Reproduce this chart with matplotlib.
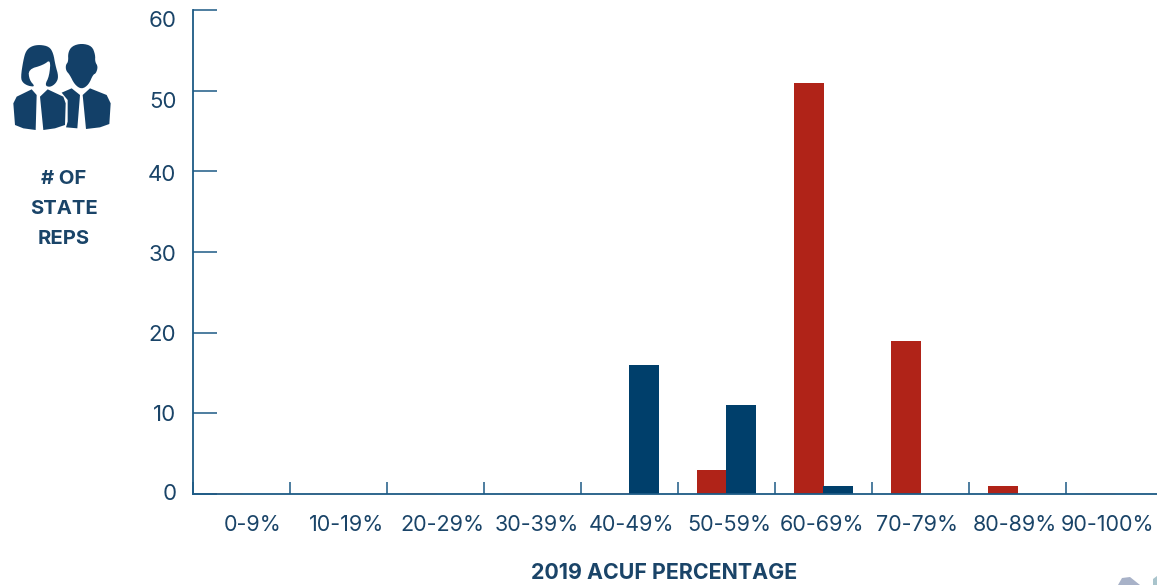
import numpy as np
import matplotlib
matplotlib.use('Agg')
import matplotlib.pyplot as plt
from matplotlib.patches import Polygon
from matplotlib.transforms import ScaledTranslation

plt.rcParams['font.family'] = ['Inter', 'DejaVu Sans']

# chart values
categories = ['0-9%', '10-19%', '20-29%', '30-39%', '40-49%', '50-59%', '60-69%', '70-79%', '80-89%', '90-100%']
red_counts = np.array([0, 0, 0, 0, 0, 3, 51, 19, 1, 0])
blue_counts = np.array([0, 0, 0, 0, 16, 11, 1, 0, 0, 0])
y_ticks = [0, 10, 20, 30, 40, 50, 60]
y_title = ['# OF', 'STATE', 'REPS']
x_title = '2019 ACUF PERCENTAGE'

RED = '#b02318'
BLUE = '#003f6b'
AXIS = '#1c5a85'
TEXT = '#1a4468'
ICON = '#134068'

W, H = 1157, 585
fig = plt.figure(figsize=(W / 100, H / 100), dpi=100)

# axes in pixels: x axis runs off the right edge of the picture, 97px per category
left, bottom, top = 192.5, 494, 10
ax = fig.add_axes([left / W, (H - bottom) / H, (W - left) / W, (bottom - top) / H])
ax.set_xlim(0, (W - left) / 97)
ax.set_ylim(0, 60)

x = np.arange(len(categories)) + 0.5
bw = 30 / 97
shift = 0.6 / 97  # red bars sit a touch right of the category centre
ax.bar(x[red_counts > 0] - bw / 2 + shift, red_counts[red_counts > 0], bw, color=RED)
ax.bar(x[blue_counts > 0] + bw / 2, blue_counts[blue_counts > 0], bw, color=BLUE)
# zero bars only leave a faint tint on the axis line
ax.bar(x[red_counts == 0] - bw / 2 + shift, red_counts[red_counts == 0], bw, color=RED, edgecolor=RED,
       linewidth=1.0, alpha=0.3, zorder=4)

for s in ['top', 'right']:
    ax.spines[s].set_visible(False)
for s in ['left', 'bottom']:
    ax.spines[s].set_color(AXIS)
    ax.spines[s].set_linewidth(1.3)

px = 0.72  # points per pixel at dpi 100
ax.set_yticks(y_ticks)
ax.tick_params(axis='y', direction='in', length=24 * px, width=1.1, color=AXIS, labelcolor=TEXT,
               labelsize=16, pad=16 * px)
ax.set_xticks(np.arange(0, 10))
ax.set_xticklabels([])
ax.tick_params(axis='x', which='major', direction='in', length=12 * px, width=1.1, color=AXIS)
ax.set_xticks(x, minor=True)
ax.set_xticklabels(categories, minor=True)
ax.tick_params(axis='x', which='minor', length=0, labelcolor=TEXT, labelsize=15.5, pad=21 * px)

# the labels in the original are nudged by hand, so shift each one (pixels)
y_nudge = [2, 0, 0, -1, -1.5, -9, -9]
x_nudge = [12, 9, 7, 5, 3, 3, -1, -3, -2, -6]
for lab, d in zip(ax.get_yticklabels(), y_nudge):
    lab.set_transform(lab.get_transform() + ScaledTranslation(0, d / 100, fig.dpi_scale_trans))
for lab, d in zip(ax.get_xticklabels(minor=True), x_nudge):
    lab.set_transform(lab.get_transform() + ScaledTranslation(d / 100, 0, fig.dpi_scale_trans))

# overlay in pixel coordinates for titles and icon
ov = fig.add_axes([0, 0, 1, 1], zorder=5)
ov.set_xlim(0, W)
ov.set_ylim(H, 0)
ov.axis('off')

for txt, yy in zip(y_title, [179, 209, 239]):
    ov.text(64, yy, txt, ha='center', va='center', color=TEXT, fontsize=14.6, fontweight='bold')
ov.text(664.5, 573, x_title, ha='center', va='center', color=TEXT, fontsize=15.4, fontweight='bold')


def smooth(pts, n=2):
    # corner cutting so the heads come out round
    pts = np.array(pts, dtype=float)
    for _ in range(n):
        nxt = np.roll(pts, -1, axis=0)
        pts = np.column_stack([0.75 * pts + 0.25 * nxt, 0.25 * pts + 0.75 * nxt]).reshape(-1, 2)
    return pts


# people icon, traced from a 3x zoom
heads = [
    [(62, 232), (70, 180), (78, 152), (95, 138), (120, 134), (148, 140), (160, 160), (166, 195), (176, 230),
     (168, 250), (150, 262), (134, 256), (148, 228), (152, 178), (130, 195), (85, 208), (88, 240), (106, 260),
     (85, 258), (68, 248)],
    [(245, 130), (276, 138), (286, 165), (285, 185), (294, 200), (288, 220), (279, 224), (266, 254), (245, 268),
     (224, 254), (209, 224), (198, 212), (197, 195), (205, 185), (204, 158), (216, 138)],
]
jackets = [
    [(95, 268), (110, 285), (107, 390), (70, 385), (45, 375), (40, 310), (50, 290)],
    [(143, 268), (190, 290), (197, 310), (195, 375), (165, 385), (130, 390), (120, 290)],
    [(215, 265), (240, 285), (232, 385), (198, 382), (203, 365), (203, 300), (185, 278)],
    [(270, 265), (320, 285), (332, 310), (328, 372), (300, 382), (258, 387), (248, 285)],
]
for shape in heads:
    ov.add_patch(Polygon(smooth(shape) / 3, closed=True, color=ICON, lw=0))
for shape in jackets:
    ov.add_patch(Polygon(np.array(shape) / 3, closed=True, color=ICON, lw=0))

# bits of the next graphic showing at the bottom edge
ov.add_patch(Polygon([(1118, 585), (1122, 578), (1130, 577), (1140, 585)], closed=True, color='#a8b2c8', lw=0))
ov.add_patch(Polygon([(1153, 585), (1153, 579), (1157, 576), (1157, 585)], closed=True, color='#a9c4cc', lw=0))

fig.savefig('out.png', dpi=100)
